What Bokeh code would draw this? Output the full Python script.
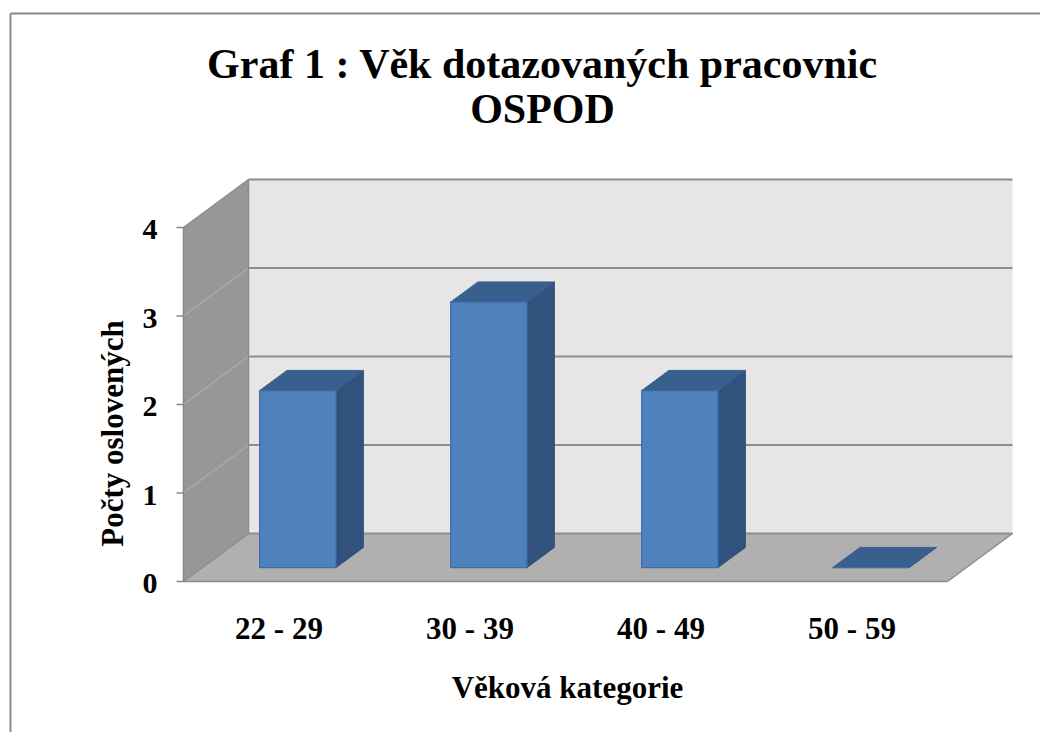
import math
from bokeh.plotting import figure
from bokeh.models import ColumnDataSource, Label, Range1d
from bokeh.core.properties import value
from bokeh.embed import file_html
from bokeh.resources import INLINE

# ---- data ----
categories = ["22 - 29", "30 - 39", "40 - 49", "50 - 59"]
counts = [2, 3, 2, 0]
y_ticks = [0, 1, 2, 3, 4]
title_lines = ["Graf 1 : Věk dotazovaných pracovnic", "OSPOD"]
x_title = "Věková kategorie"
y_title = "Počty oslovených"

# ---- layout (pixels) ----
W, H = 1040, 732
PX0, PXU = 183.0, 191.0    # pixel x of category origin, pixels per category
PY0, PYU = 581.0, 88.5     # pixel y of value 0, pixels per unit value


def px2x(px):
    return (px - PX0) / PXU


def py2y(py):
    return (PY0 - py) / PYU


# ---- 3D geometry (data units) ----
DX = 65 / PXU      # depth offset along x
DY = 48 / PYU      # depth offset along y
D0, D1 = 0.29, 0.71
BAR_W = 0.4
n = len(categories)
YMAX = max(y_ticks)

FONT = "Liberation Serif"

p = figure(width=W, height=H, output_backend="svg", toolbar_location=None, tools="",
           x_range=Range1d(px2x(0), px2x(W)), y_range=Range1d(py2y(H), py2y(0)),
           x_axis_location=None, y_axis_location=None, min_border=0)
p.grid.visible = False
p.outline_line_color = None
p.background_fill_color = "white"
p.border_fill_color = "white"

# chart border (only left and top edges fall inside the picture)
p.segment(x0=[px2x(10), px2x(10)], y0=[py2y(13), py2y(13)],
          x1=[px2x(10), px2x(2000)], y1=[py2y(2000), py2y(13)],
          line_color="#888888", line_width=2)

# walls
p.quad(left=DX, right=n + DX, bottom=DY, top=YMAX + DY,
       fill_color="#E6E6E6", line_color=None)
p.patch([0, DX, DX, 0], [0, DY, YMAX + DY, YMAX], fill_color="#979797", line_color=None)
p.patch([0, n, n + DX, DX], [0, 0, DY, DY], fill_color="#B0B0B0", line_color=None)

# side-wall diagonal grid lines
mid = y_ticks[1:-1]
p.segment(x0=[0] * len(mid), y0=mid, x1=[DX] * len(mid), y1=[t + DY for t in mid],
          line_color="#ABABAB", line_width=1.5)
# back-wall grid lines
p.segment(x0=[DX] * len(y_ticks), y0=[t + DY for t in y_ticks],
          x1=[n + DX] * len(y_ticks), y1=[t + DY for t in y_ticks],
          line_color="#8C8C8C", line_width=2)
# edges of walls / floor
p.segment(x0=[0, 0, DX, n, 0], y0=[YMAX, 0, DY, 0, 0],
          x1=[DX, DX, DX, n + DX, n], y1=[YMAX + DY, DY, YMAX + DY, DY, 0],
          line_color="#8C8C8C", line_width=1.5)

# bars
front_l, front_r, front_b, front_t = [], [], [], []
side_xs, side_ys, top_xs, top_ys = [], [], [], []
for i, v in enumerate(counts):
    l = i + 0.5 - BAR_W / 2
    r = i + 0.5 + BAR_W / 2
    fx, fy = D0 * DX, D0 * DY
    bx, by = D1 * DX, D1 * DY
    front_l.append(l + fx); front_r.append(r + fx)
    front_b.append(fy); front_t.append(v + fy)
    side_xs.append([r + fx, r + bx, r + bx, r + fx])
    side_ys.append([fy, by, v + by, v + fy])
    top_xs.append([l + fx, r + fx, r + bx, l + bx])
    top_ys.append([v + fy, v + fy, v + by, v + by])

p.patches(xs=side_xs, ys=side_ys, fill_color="#31527C", line_color="#2F4F78", line_width=1)
p.patches(xs=top_xs, ys=top_ys, fill_color="#395F8D", line_color="#37608F", line_width=1)
p.quad(left=front_l, right=front_r, bottom=front_b, top=front_t,
       fill_color="#4F81BD", line_color="#3D6CA6", line_width=1.2)

# y axis: line, ticks, labels
p.segment(x0=[0], y0=[0], x1=[0], y1=[YMAX], line_color="#878787", line_width=1.5)
p.segment(x0=[px2x(PX0 - 7)] * len(y_ticks), y0=y_ticks, x1=[0] * len(y_ticks), y1=y_ticks,
          line_color="#878787", line_width=1.5)
ysrc = ColumnDataSource(dict(x=[0] * len(y_ticks), y=y_ticks, t=[str(t) for t in y_ticks]))
p.text(x="x", y="y", text="t", source=ysrc, x_offset=-26, y_offset=2,
       text_font=value(FONT), text_font_size=value("30px"), text_font_style=value("bold"),
       text_align=value("right"), text_baseline=value("middle"), text_color="black")

# x category labels
xsrc = ColumnDataSource(dict(x=[i + 0.5 for i in range(n)], y=[0] * n, t=categories))
p.text(x="x", y="y", text="t", source=xsrc, y_offset=47,
       text_font=value(FONT), text_font_size=value("31px"), text_font_style=value("bold"),
       text_align=value("center"), text_baseline=value("middle"), text_color="black")

# titles
for txt, py in zip(title_lines, [63, 108]):
    p.add_layout(Label(x=px2x(542), y=py2y(py), text=txt,
                       text_font=FONT, text_font_size="42px", text_font_style="bold",
                       text_align="center", text_baseline="middle", text_color="black"))
p.add_layout(Label(x=px2x(567), y=py2y(687), text=x_title,
                   text_font=FONT, text_font_size="31px", text_font_style="bold",
                   text_align="center", text_baseline="middle", text_color="black"))
p.add_layout(Label(x=px2x(112), y=py2y(433), text=y_title, angle=math.pi / 2,
                   text_font=FONT, text_font_size="31px", text_font_style="bold",
                   text_align="center", text_baseline="middle", text_color="black"))

open("out.html", "w").write(file_html(p, INLINE))
